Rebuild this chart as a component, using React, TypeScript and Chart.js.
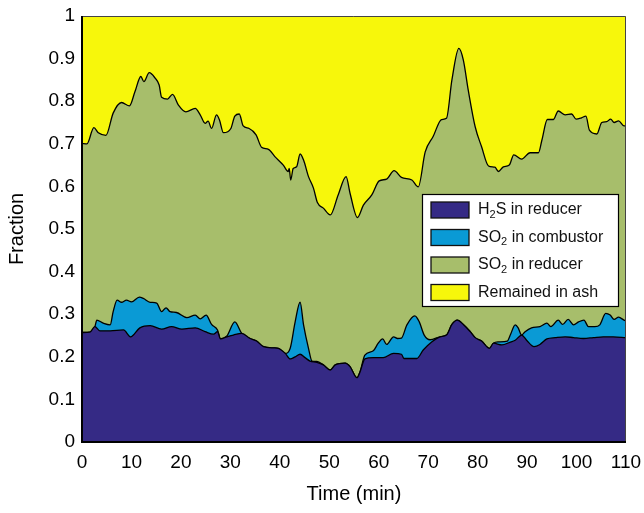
import { useEffect, useRef } from 'react';
import { Chart, registerables } from 'chart.js';

Chart.register(...registerables);

// Time (min) and cumulative fraction at the upper edge of each layer.
const h2sTime = [0, 1.6, 2.6, 3.6, 5.7, 8.4, 9.8, 11.7, 13.8, 16.1, 18.1, 20.2, 22.9, 24.9, 26.6, 27.4, 28.0, 29.3, 30.6, 32.3, 34.0, 35.3, 36.7, 38.7, 39.7, 41.1, 42.1, 43.1, 44.1, 45.1, 46.1, 47.5, 48.8, 50.2, 51.2, 53.2, 54.2, 55.6, 56.2, 57.2, 58.9, 60.9, 63.0, 64.6, 65.1, 67.7, 69.0, 70.7, 72.4, 73.7, 74.8, 75.9, 77.1, 78.5, 79.5, 80.8, 82.4, 83.2, 84.9, 86.5, 87.6, 88.9, 89.9, 91.4, 92.6, 94.0, 95.7, 97.7, 99.4, 101.4, 103.4, 105.4, 107.4, 110];
const h2sTop = [0.257, 0.258, 0.271, 0.261, 0.261, 0.263, 0.247, 0.268, 0.273, 0.265, 0.271, 0.265, 0.268, 0.259, 0.253, 0.259, 0.242, 0.247, 0.251, 0.255, 0.243, 0.237, 0.224, 0.221, 0.220, 0.208, 0.195, 0.200, 0.206, 0.198, 0.190, 0.187, 0.181, 0.169, 0.181, 0.185, 0.177, 0.151, 0.164, 0.195, 0.198, 0.198, 0.208, 0.206, 0.196, 0.196, 0.216, 0.235, 0.247, 0.251, 0.276, 0.286, 0.276, 0.259, 0.245, 0.237, 0.220, 0.232, 0.228, 0.234, 0.239, 0.251, 0.239, 0.224, 0.229, 0.242, 0.245, 0.247, 0.245, 0.243, 0.245, 0.247, 0.247, 0.245];

const combustorTime = [0, 1.6, 2.6, 3.0, 4.3, 5.7, 6.3, 7.1, 8.0, 9.0, 10.0, 11.6, 12.4, 13.8, 15.1, 16.1, 17.0, 17.8, 19.1, 21.2, 22.9, 23.9, 25.1, 26.2, 27.4, 28.0, 29.3, 30.9, 32.3, 34.0, 35.3, 36.7, 38.7, 39.7, 41.1, 42.1, 43.1, 44.1, 44.8, 45.8, 46.5, 47.5, 48.8, 50.2, 51.2, 53.2, 54.2, 55.6, 56.2, 57.2, 58.9, 59.9, 60.8, 61.6, 63.0, 63.8, 64.6, 65.7, 67.3, 68.2, 69.2, 70.4, 72.4, 73.7, 74.8, 75.9, 77.1, 78.5, 79.5, 80.8, 82.4, 83.2, 84.2, 86.0, 86.6, 87.6, 88.2, 88.9, 89.6, 90.9, 92.6, 94.0, 94.8, 96.3, 97.2, 98.3, 99.4, 100.4, 101.5, 102.4, 103.7, 104.7, 105.9, 106.8, 107.6, 108.5, 109.6, 110];
const combustorTop = [0.257, 0.258, 0.271, 0.286, 0.279, 0.275, 0.306, 0.333, 0.328, 0.333, 0.329, 0.340, 0.337, 0.328, 0.326, 0.306, 0.315, 0.306, 0.304, 0.292, 0.298, 0.289, 0.298, 0.276, 0.263, 0.242, 0.249, 0.282, 0.255, 0.243, 0.237, 0.224, 0.221, 0.220, 0.208, 0.220, 0.282, 0.328, 0.275, 0.220, 0.190, 0.189, 0.181, 0.169, 0.181, 0.185, 0.177, 0.151, 0.164, 0.204, 0.214, 0.232, 0.242, 0.229, 0.247, 0.243, 0.244, 0.275, 0.296, 0.282, 0.251, 0.240, 0.247, 0.251, 0.276, 0.286, 0.276, 0.259, 0.245, 0.237, 0.220, 0.232, 0.235, 0.237, 0.251, 0.275, 0.268, 0.251, 0.259, 0.268, 0.271, 0.279, 0.271, 0.286, 0.276, 0.288, 0.275, 0.282, 0.286, 0.271, 0.271, 0.275, 0.302, 0.298, 0.288, 0.293, 0.286, 0.284];

const reducerTime = [0, 1.0, 2.4, 3.3, 4.85, 6.3, 8.0, 9.6, 10.7, 11.9, 12.5, 13.6, 14.8, 15.6, 16.1, 17.3, 18.3, 19.5, 21.0, 22.9, 23.9, 24.9, 25.5, 26.2, 27.2, 27.8, 28.6, 30.1, 30.9, 31.8, 32.6, 33.8, 35.2, 36.3, 37.7, 39.0, 40.7, 41.7, 41.9, 42.2, 42.7, 43.4, 44.1, 44.8, 45.8, 46.8, 47.6, 48.8, 50.2, 51.8, 53.4, 54.2, 55.7, 56.9, 58.6, 60.1, 61.6, 63.1, 64.6, 66.7, 68.0, 69.4, 71.0, 72.7, 73.7, 74.8, 76.2, 77.1, 78.1, 79.5, 80.8, 82.2, 83.5, 84.2, 85.2, 86.4, 87.3, 88.9, 90.6, 92.3, 93.0, 94.1, 95.3, 96.3, 97.7, 99.0, 99.9, 101.0, 101.9, 102.6, 104.1, 105.1, 106.1, 106.9, 107.6, 108.5, 109.6, 110];
const reducerTop = [0.701, 0.700, 0.738, 0.726, 0.720, 0.772, 0.797, 0.789, 0.822, 0.858, 0.846, 0.867, 0.854, 0.838, 0.809, 0.805, 0.816, 0.791, 0.775, 0.783, 0.768, 0.748, 0.753, 0.736, 0.768, 0.756, 0.726, 0.736, 0.765, 0.770, 0.742, 0.736, 0.721, 0.692, 0.687, 0.670, 0.650, 0.635, 0.642, 0.615, 0.642, 0.646, 0.676, 0.662, 0.623, 0.596, 0.562, 0.549, 0.533, 0.580, 0.623, 0.584, 0.527, 0.556, 0.580, 0.613, 0.617, 0.637, 0.621, 0.615, 0.599, 0.681, 0.717, 0.757, 0.760, 0.850, 0.924, 0.897, 0.826, 0.740, 0.693, 0.648, 0.645, 0.635, 0.646, 0.650, 0.674, 0.664, 0.679, 0.679, 0.709, 0.757, 0.757, 0.777, 0.768, 0.770, 0.758, 0.761, 0.765, 0.732, 0.723, 0.750, 0.752, 0.758, 0.750, 0.754, 0.742, 0.742];

const ashTime = [0, 110];
const ashTop = [1, 1];

const seriesNames = ['H₂S in reducer', 'SO₂ in combustor', 'SO₂ in reducer', 'Remained in ash'];
const seriesColors = ['#352a85', '#0a9ad5', '#a7be6b', '#f7f70b'];

const xMin = 0;
const xMax = 110;
const xStep = 10;
const yMin = 0;
const yMax = 1;
const yStep = 0.1;

const FONT = "'Liberation Sans', Arial, Helvetica, sans-serif";

const toPoints = (t: number[], v: number[]) => t.map((x, i) => ({ x, y: v[i] }));

// Plot frame: heavier left/bottom axes, thin top/right edges.
const framePlugin = {
  id: 'frame',
  afterDatasetsDraw(chart: any) {
    const { ctx, chartArea: a } = chart;
    ctx.save();
    ctx.strokeStyle = '#444';
    ctx.lineWidth = 1;
    ctx.beginPath();
    ctx.moveTo(a.left, a.top + 0.5);
    ctx.lineTo(a.right - 0.5, a.top + 0.5);
    ctx.lineTo(a.right - 0.5, a.bottom);
    ctx.stroke();
    ctx.strokeStyle = '#000';
    ctx.lineWidth = 2;
    ctx.beginPath();
    ctx.moveTo(a.left, a.top);
    ctx.lineTo(a.left, a.bottom);
    ctx.lineTo(a.right, a.bottom);
    ctx.stroke();
    ctx.restore();
  },
};

// Draws a label, rendering subscript digits (₀-₉) as lowered, smaller text.
function drawRichLabel(ctx: CanvasRenderingContext2D, text: string, x: number, y: number, size: number) {
  let cx = x;
  for (const ch of Array.from(text)) {
    const code = ch.charCodeAt(0);
    if (code >= 0x2080 && code <= 0x2089) {
      const d = String(code - 0x2080);
      ctx.font = `${Math.round(size * 0.7)}px ${FONT}`;
      ctx.fillText(d, cx, y + size * 0.3);
      cx += ctx.measureText(d).width;
    } else {
      ctx.font = `${size}px ${FONT}`;
      ctx.fillText(ch, cx, y);
      cx += ctx.measureText(ch).width;
    }
  }
}

const boxLegendPlugin = {
  id: 'boxLegend',
  afterDraw(chart: any) {
    const { ctx, chartArea: a } = chart;
    const left = a.right - 204;
    const top = a.top + 178;
    const w = 196;
    const h = 112;
    ctx.save();
    ctx.fillStyle = '#fff';
    ctx.fillRect(left, top, w, h);
    ctx.strokeStyle = '#000';
    ctx.lineWidth = 1.2;
    ctx.strokeRect(left + 0.5, top + 0.5, w, h);
    const size = 16;
    seriesNames.forEach((name, i) => {
      const rowTop = top + 8 + i * 27.5;
      ctx.fillStyle = seriesColors[i];
      ctx.fillRect(left + 9, rowTop, 38, 16);
      ctx.strokeStyle = '#111';
      ctx.lineWidth = 1.3;
      ctx.strokeRect(left + 9, rowTop, 38, 16);
      ctx.fillStyle = '#111';
      ctx.textBaseline = 'middle';
      ctx.textAlign = 'left';
      drawRichLabel(ctx, name, left + 56, rowTop + 8, size);
    });
    ctx.restore();
  },
};

export default function App() {
  const canvasRef = useRef<HTMLCanvasElement>(null);

  useEffect(() => {
    if (!canvasRef.current) return;
    const layer = (label: string, color: string, t: number[], v: number[], border: boolean) => ({
      label,
      data: toPoints(t, v),
      backgroundColor: color,
      borderColor: '#000',
      borderWidth: border ? 1.3 : 0,
      fill: 'origin',
      pointRadius: 0,
      cubicInterpolationMode: 'monotone' as const,
    });
    const chart = new Chart(canvasRef.current, {
      type: 'line',
      data: {
        datasets: [
          layer(seriesNames[0], seriesColors[0], h2sTime, h2sTop, true),
          layer(seriesNames[1], seriesColors[1], combustorTime, combustorTop, true),
          layer(seriesNames[2], seriesColors[2], reducerTime, reducerTop, true),
          layer(seriesNames[3], seriesColors[3], ashTime, ashTop, false),
        ],
      },
      options: {
        animation: false,
        responsive: true,
        maintainAspectRatio: false,
        layout: { padding: { top: 16, right: 18, left: 0, bottom: 0 } },
        plugins: {
          legend: { display: false },
          tooltip: { enabled: false },
        },
        scales: {
          x: {
            type: 'linear',
            min: xMin,
            max: xMax,
            grid: { display: false, drawTicks: false },
            border: { display: false },
            ticks: {
              stepSize: xStep,
              padding: 9,
              color: '#000',
              font: { family: FONT, size: 19 },
              maxRotation: 0,
            },
            title: {
              display: true,
              text: 'Time (min)',
              color: '#000',
              font: { family: FONT, size: 20 },
              padding: { top: 0, bottom: 7 },
            },
            afterFit(scale: any) {
              scale.height = 71;
              scale.paddingLeft = 0;
              scale.paddingRight = 0;
            },
          },
          y: {
            type: 'linear',
            min: yMin,
            max: yMax,
            grid: { display: false, drawTicks: false },
            border: { display: false },
            ticks: {
              stepSize: yStep,
              padding: 7,
              color: '#000',
              font: { family: FONT, size: 19 },
              callback: (v: any) => String(Number(Number(v).toFixed(1))),
            },
            title: {
              display: true,
              text: 'Fraction',
              color: '#000',
              font: { family: FONT, size: 20 },
              padding: { top: 5, bottom: 0 },
            },
            afterFit(scale: any) {
              scale.width = 82;
              scale.paddingTop = 0;
              scale.paddingBottom = 0;
            },
          },
        },
      },
      plugins: [framePlugin, boxLegendPlugin],
    });
    return () => chart.destroy();
  }, []);

  return (
    <div style={{ position: 'absolute', left: 0, top: 0, width: 644, height: 513, background: '#fff' }}>
      <canvas ref={canvasRef} />
    </div>
  );
}
